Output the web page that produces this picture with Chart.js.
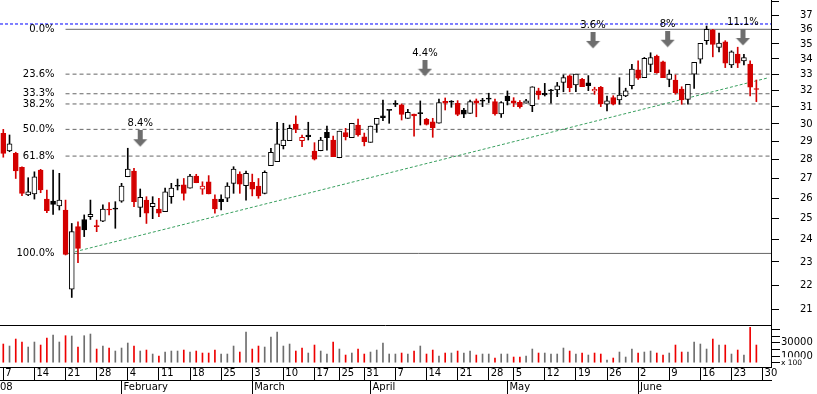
<!DOCTYPE html>
<html><head><meta charset="utf-8">
<script src="https://cdn.jsdelivr.net/npm/chart.js@4.4.1/dist/chart.umd.min.js"></script>
<style>html,body{margin:0;padding:0;background:#fff;}#wrap{width:817px;height:394px;position:relative;}</style>
</head><body><div id="wrap"><canvas id="c"></canvas></div>
<script>
// ---------- DATA ----------
const dates = [
'2008-01-07','2008-01-08','2008-01-09','2008-01-10','2008-01-11','2008-01-14','2008-01-15','2008-01-16','2008-01-17','2008-01-18',
'2008-01-21','2008-01-22','2008-01-23','2008-01-24','2008-01-25','2008-01-28','2008-01-29','2008-01-30','2008-01-31','2008-02-01',
'2008-02-04','2008-02-05','2008-02-06','2008-02-07','2008-02-08','2008-02-11','2008-02-12','2008-02-13','2008-02-14','2008-02-15',
'2008-02-18','2008-02-19','2008-02-20','2008-02-21','2008-02-22','2008-02-25','2008-02-26','2008-02-27','2008-02-28','2008-02-29',
'2008-03-03','2008-03-04','2008-03-05','2008-03-06','2008-03-07','2008-03-10','2008-03-11','2008-03-12','2008-03-13','2008-03-14',
'2008-03-17','2008-03-18','2008-03-19','2008-03-20','2008-03-25','2008-03-26','2008-03-27','2008-03-28','2008-03-31','2008-04-01',
'2008-04-02','2008-04-03','2008-04-04','2008-04-07','2008-04-08','2008-04-09','2008-04-10','2008-04-11','2008-04-14','2008-04-15',
'2008-04-16','2008-04-17','2008-04-18','2008-04-21','2008-04-22','2008-04-23','2008-04-24','2008-04-25','2008-04-28','2008-04-29',
'2008-04-30','2008-05-02','2008-05-05','2008-05-06','2008-05-07','2008-05-08','2008-05-09','2008-05-12','2008-05-13','2008-05-14',
'2008-05-15','2008-05-16','2008-05-19','2008-05-20','2008-05-21','2008-05-22','2008-05-23','2008-05-26','2008-05-27','2008-05-28',
'2008-05-29','2008-05-30','2008-06-02','2008-06-03','2008-06-04','2008-06-05','2008-06-06','2008-06-09','2008-06-10','2008-06-11',
'2008-06-12','2008-06-13','2008-06-16','2008-06-17','2008-06-18','2008-06-19','2008-06-20','2008-06-23','2008-06-24','2008-06-25',
'2008-06-26','2008-06-27','2008-06-30'];

const open = [
29.47,28.48,28.35,27.60,26.17,26.22,27.45,25.96,25.86,25.62,
25.42,21.82,24.62,24.96,25.09,24.65,24.88,25.46,25.52,25.86,
27.10,27.40,25.55,25.91,25.58,25.47,25.34,26.08,26.62,26.68,
26.51,27.14,26.46,26.84,25.96,25.96,26.00,26.76,27.24,26.64,
26.81,26.62,26.25,27.68,27.90,28.77,29.05,30.00,29.05,29.37,
28.48,28.49,29.52,29.09,28.11,29.50,29.22,29.94,29.26,28.96,
29.98,30.48,30.82,31.16,31.12,30.33,30.58,30.61,30.27,30.13,
30.04,31.34,31.30,31.22,30.82,30.62,31.36,31.36,31.48,31.32,
30.58,31.66,31.36,31.28,31.22,31.08,31.97,31.83,31.99,32.03,
32.50,32.91,32.34,32.69,32.48,31.97,32.19,31.16,31.56,31.42,
31.66,32.29,33.29,32.80,33.65,34.19,33.82,32.69,32.65,32.09,
31.46,33.02,33.98,35.22,35.97,34.76,35.15,33.61,34.32,33.88,
33.67,32.09];

const high = [
29.69,29.37,28.41,27.63,27.05,27.36,27.49,26.42,27.45,27.28,
25.91,24.77,24.85,25.18,25.91,24.93,25.67,25.78,25.83,26.76,
28.63,27.54,26.47,26.08,26.08,26.00,26.51,26.76,26.98,27.01,
27.23,27.23,26.84,27.16,26.17,26.17,26.79,27.63,27.36,27.40,
27.24,27.01,27.41,28.63,30.10,30.04,29.94,30.47,29.37,30.10,
28.94,29.24,29.88,29.31,29.59,29.75,30.04,30.29,29.48,29.88,
30.33,31.42,30.82,31.38,31.18,30.86,30.58,31.36,30.33,30.33,
31.48,31.54,31.38,31.38,30.92,31.42,31.48,31.52,31.83,31.48,
31.32,31.97,31.56,31.38,31.46,32.23,32.14,32.44,32.07,32.50,
32.97,32.97,33.02,32.76,32.93,32.20,32.25,31.66,31.68,32.80,
32.14,33.65,33.88,34.10,34.41,34.26,33.86,33.29,32.97,32.23,
32.38,33.78,35.04,36.23,36.00,35.74,35.22,34.54,34.78,34.30,
33.88,32.65];

const low = [
28.14,28.44,27.01,26.13,26.13,25.96,26.28,25.29,25.21,25.42,
23.31,21.48,22.97,24.15,24.96,24.38,24.85,25.18,24.54,25.80,
27.10,25.58,25.09,24.77,25.00,25.09,25.34,25.75,26.42,25.91,
26.51,26.79,26.20,26.22,25.26,25.42,25.83,26.25,26.25,25.91,
26.12,26.00,26.22,27.68,27.90,28.59,29.05,29.50,28.72,29.09,
27.99,28.49,28.53,28.17,28.11,29.09,29.22,29.31,28.76,28.96,
29.52,30.19,30.04,31.02,30.23,30.33,29.31,29.94,29.94,29.24,
30.04,30.82,30.98,30.48,30.36,30.62,30.42,31.02,31.26,30.52,
30.38,31.12,31.02,30.92,31.22,30.72,31.46,31.66,31.22,31.62,
31.92,31.92,31.92,32.23,31.99,31.76,31.02,30.76,31.12,31.16,
31.62,32.09,32.69,32.80,33.18,33.08,32.80,32.23,31.77,31.16,
31.16,32.13,33.72,34.97,34.14,34.47,33.44,33.44,33.44,33.61,
31.66,31.32];

const close = [
28.35,28.87,27.41,26.25,26.33,27.10,26.42,25.39,25.70,25.91,
23.34,24.38,23.61,24.46,25.21,24.62,25.46,25.42,25.46,26.62,
27.50,25.83,26.05,25.26,25.75,25.26,26.33,26.51,26.61,26.25,
27.14,26.79,26.62,26.22,25.47,25.83,26.62,27.50,26.71,27.28,
26.46,26.12,27.33,28.41,28.87,29.09,29.75,29.69,29.24,29.27,
28.04,29.09,29.22,28.17,29.59,29.27,30.04,29.37,29.00,29.88,
30.33,30.36,30.80,31.15,30.56,30.68,30.47,30.60,29.98,29.79,
31.26,31.22,31.29,30.56,30.57,31.32,31.22,31.35,31.47,30.58,
31.26,31.38,31.22,31.02,31.36,32.23,31.72,31.73,31.98,32.28,
32.80,32.17,33.02,32.23,32.29,32.07,31.18,31.36,31.16,31.72,
31.97,33.35,32.76,34.04,34.10,33.12,32.80,33.02,31.86,31.42,
32.38,33.78,35.04,36.00,34.97,35.06,33.72,34.47,33.72,34.10,
32.20,32.06];

const volume = [
28000,25000,35500,31000,23500,31000,26500,37000,41500,31000,
40500,40000,23500,40500,43000,20500,25000,22000,17500,22000,
29500,25000,17500,19000,13000,10000,16000,17500,17500,19000,
16000,17500,14500,14500,19000,13000,13000,25000,16000,46000,
20500,25000,23500,38500,46000,25000,28000,17500,22000,14500,
26500,17500,13000,31000,20500,11500,14500,20500,13000,16000,
19000,29500,13000,13000,14500,13000,17500,25000,13000,19000,
10000,14500,14500,17500,14500,17500,11500,13000,13000,7000,
13000,13000,8500,8500,10000,20500,14500,14500,13000,13000,
22000,17500,13000,14500,11500,14500,13000,4000,7000,16000,
8500,20500,14500,16000,17500,14500,11500,14500,26500,16000,
16000,31000,28000,20500,35500,26500,26500,13000,19000,11500,
53000,26500];

const fibLevels = [0, 23.6, 33.3, 38.2, 50, 61.8, 100];
const fibHigh = 36.0;
const fibLow = 23.38;
const fibStartIndex = 10;
const trendX = [10, 123];
const trendY = [23.35, 32.8];
const resistanceLevel = 36.37;
const arrowX = [22, 67.75, 94.75, 106.75, 118.85];
const arrowY = [29.16, 33.40, 35.24, 35.32, 35.44];
const arrowLabels = ['8.4%', '4.4%', '3.6%', '8%', '11.1%'];
const priceTicks = [21,22,23,24,25,26,27,28,29,30,31,32,33,34,35,36,37,38];
const volumeTicks = [50000,40000,30000,20000,10000,0];
const volumeTickLabels = {30000:'30000', 10000:'10000', 0:'x 100'};
const monthNames = ['January','February','March','April','May','June','July','August','September','October','November','December'];
const yearLabel = '08';

// ---------- AXIS RANGES ----------
const X_MIN = -0.53, X_MAX = 123.35;
const P_MIN = 20.37, P_MAX = 38.09;
const V_MIN = -6450, V_MAX = 56550;

// ---------- DERIVED ----------
const RED = '#d40000', BLACK = '#000000', VRED = '#ee0000', VGRAY = '#6e6e6e';
const isDown = close.map((c, i) => c < (i === 0 ? open[0] : close[i - 1]));
const isFilled = close.map((c, i) => c < open[i]);
const candleColor = isDown.map(d => d ? RED : BLACK);

const dObj = dates.map(s => new Date(s + 'T00:00:00Z'));
const weekIdx = [], weekLabel = {};
const monthIdx = [], monthLabel = {};
dObj.forEach((d, i) => {
  const p = i > 0 ? dObj[i - 1] : null;
  if (!p || d.getUTCDay() <= p.getUTCDay() || (d - p) > 6 * 864e5) {
    weekIdx.push(i); weekLabel[i] = '\u2009' + d.getUTCDate();
  }
  if (p && d.getUTCMonth() !== p.getUTCMonth()) {
    monthIdx.push(i); monthLabel[i] = '\u2009' + monthNames[d.getUTCMonth()];
  }
});
monthLabel[X_MIN] = yearLabel;

// arrow marker
const arrowImg = document.createElement('canvas');
arrowImg.width = 15; arrowImg.height = 17;
(function () {
  const g = arrowImg.getContext('2d');
  g.fillStyle = '#6e6e6e';
  g.fillRect(5, 0, 5, 10);
  g.beginPath(); g.moveTo(0.5, 9); g.lineTo(14.5, 9); g.lineTo(7.5, 16.5); g.closePath(); g.fill();
})();

Chart.defaults.font.family = '"DejaVu Sans", Verdana, sans-serif';
Chart.defaults.font.size = 10;
Chart.defaults.color = '#000';

const fibDatasets = fibLevels.map(f => {
  const v = fibHigh - f / 100 * (fibHigh - fibLow);
  const solid = (f === 0 || f === 100);
  return {
    type: 'line', data: [{x: fibStartIndex, y: v}, {x: X_MAX, y: v}],
    borderColor: '#666666', borderWidth: 1, borderDash: solid ? [] : [4, 3],
    pointRadius: 0, xAxisID: 'x', yAxisID: 'y', order: 10
  };
});

const textPlugin = {
  id: 'textPlugin',
  afterDatasetsDraw(chart) {
    const {ctx} = chart;
    const xs = chart.scales.x, ys = chart.scales.y;
    ctx.save();
    ctx.font = '10px "DejaVu Sans", Verdana, sans-serif';
    ctx.fillStyle = '#000';
    ctx.textBaseline = 'middle';
    ctx.textAlign = 'right';
    fibLevels.forEach(f => {
      const v = fibHigh - f / 100 * (fibHigh - fibLow);
      ctx.fillText(f.toFixed(1) + '%', xs.getPixelForValue(fibStartIndex) - 11, ys.getPixelForValue(v));
    });
    ctx.textAlign = 'center';
    arrowX.forEach((ax, k) => {
      ctx.fillText(arrowLabels[k], xs.getPixelForValue(ax), ys.getPixelForValue(arrowY[k]) - 15);
    });
    ctx.restore();
  }
};

new Chart(document.getElementById('c'), {
  type: 'bar',
  data: {
    datasets: [
      { type: 'line', data: [{x: X_MIN, y: resistanceLevel}, {x: X_MAX, y: resistanceLevel}],
        borderColor: '#0000ff', borderWidth: 1, borderDash: [3, 2], pointRadius: 0,
        xAxisID: 'x', yAxisID: 'y', order: 10 },
      ...fibDatasets,
      { type: 'line', data: trendX.map((x, k) => ({x, y: trendY[k]})),
        borderColor: '#3aa060', borderWidth: 1, borderDash: [3, 2], pointRadius: 0,
        xAxisID: 'x', yAxisID: 'y', order: 9 },
      { type: 'bar', data: low.map((l, i) => ({x: i, y: [l, high[i]]})),
        backgroundColor: candleColor, borderWidth: 0, barThickness: 1, grouped: false,
        xAxisID: 'x', yAxisID: 'y', order: 5 },
      { type: 'bar', data: open.map((o, i) => ({x: i, y: [o, close[i]]})),
        backgroundColor: isFilled.map((f, i) => f ? candleColor[i] : '#ffffff'),
        borderColor: candleColor, borderWidth: 1, borderSkipped: false, minBarLength: 1,
        barThickness: 5, grouped: false, xAxisID: 'x', yAxisID: 'y', order: 4 },
      { type: 'bar', data: volume.map((v, i) => ({x: i, y: v})),
        backgroundColor: isDown.map(d => d ? VRED : VGRAY), borderWidth: 0,
        barThickness: 1, grouped: false, xAxisID: 'x', yAxisID: 'yVol', order: 5 },
      { type: 'line', showLine: false, data: arrowX.map((x, k) => ({x, y: arrowY[k]})),
        pointStyle: arrowImg, pointRadius: 5, xAxisID: 'x', yAxisID: 'y', order: 1 }
    ]
  },
  options: {
    responsive: true, maintainAspectRatio: false, animation: false, devicePixelRatio: 1,
    events: [],
    layout: { padding: 0, autoPadding: false },
    plugins: { legend: { display: false }, tooltip: { enabled: false } },
    scales: {
      x: {
        type: 'linear', position: 'bottom', min: X_MIN, max: X_MAX, offset: false, weight: 0,
        afterBuildTicks: s => { s.ticks = weekIdx.map(v => ({value: v})); },
        afterFit: s => { s.height = 13; s.paddingLeft = 0; s.paddingRight = 0; },
        ticks: { callback: v => weekLabel[v], align: 'start', padding: -13, autoSkip: false,
                 maxRotation: 0, minRotation: 0, color: '#000', font: {size: 10} },
        grid: { offset: false, drawOnChartArea: false, drawTicks: true, tickLength: 13, color: '#000', lineWidth: 1 },
        border: { display: true, color: '#000', width: 1 }
      },
      x2: {
        type: 'linear', position: 'bottom', min: X_MIN, max: X_MAX, offset: false, weight: 1,
        afterBuildTicks: s => { s.ticks = [X_MIN, ...monthIdx].map(v => ({value: v})); },
        afterFit: s => { s.height = 14; s.paddingLeft = 0; s.paddingRight = 0; },
        ticks: { callback: v => monthLabel[v], align: 'start', padding: -13, autoSkip: false,
                 maxRotation: 0, minRotation: 0, color: '#000', font: {size: 10} },
        grid: { offset: false, drawOnChartArea: false, drawTicks: true, tickLength: 14, lineWidth: 1,
                color: c => (c.tick && c.tick.value === X_MIN) ? 'rgba(0,0,0,0)' : '#000' },
        border: { display: true, color: '#000', width: 1 }
      },
      y: {
        type: 'logarithmic', position: 'right', stack: 'panels', stackWeight: 325,
        min: P_MIN, max: P_MAX,
        afterBuildTicks: s => { s.ticks = priceTicks.map(v => ({value: v})); },
        afterFit: s => { s.width = 46; s.paddingTop = 0; s.paddingBottom = 0; },
        ticks: { callback: v => v === 38 ? '' : String(v), padding: 21, autoSkip: false, color: '#000', font: {size: 10} },
        grid: { drawOnChartArea: false, drawTicks: true, tickLength: 8, color: '#000' },
        border: { display: true, color: '#000', width: 1 }
      },
      yVol: {
        type: 'linear', position: 'right', stack: 'panels', stackWeight: 42,
        min: V_MIN, max: V_MAX,
        afterBuildTicks: s => { s.ticks = [V_MAX, ...volumeTicks].map(v => ({value: v})); },
        afterFit: s => { s.width = 46; s.paddingTop = 0; s.paddingBottom = 0; },
        ticks: {
          callback: v => volumeTickLabels[v] || '', padding: 1, autoSkip: false, color: '#000',
          font: c => (c.tick && c.tick.value === 0) ? {size: 7.5} : {size: 10},
          showLabelBackdrop: c => !!(c.tick && c.tick.value === 0),
          backdropColor: '#ffffff', backdropPadding: 1
        },
        grid: {
          drawOnChartArea: true, drawTicks: true, tickLength: 9,
          color: c => (c.tick && c.tick.value === V_MAX) ? '#000' : 'rgba(0,0,0,0)',
          tickColor: c => (c.tick && c.tick.value === V_MAX) ? 'rgba(0,0,0,0)' : '#000'
        },
        border: { display: true, color: '#000', width: 1 }
      }
    }
  },
  plugins: [textPlugin]
});
</script>
</body></html>
